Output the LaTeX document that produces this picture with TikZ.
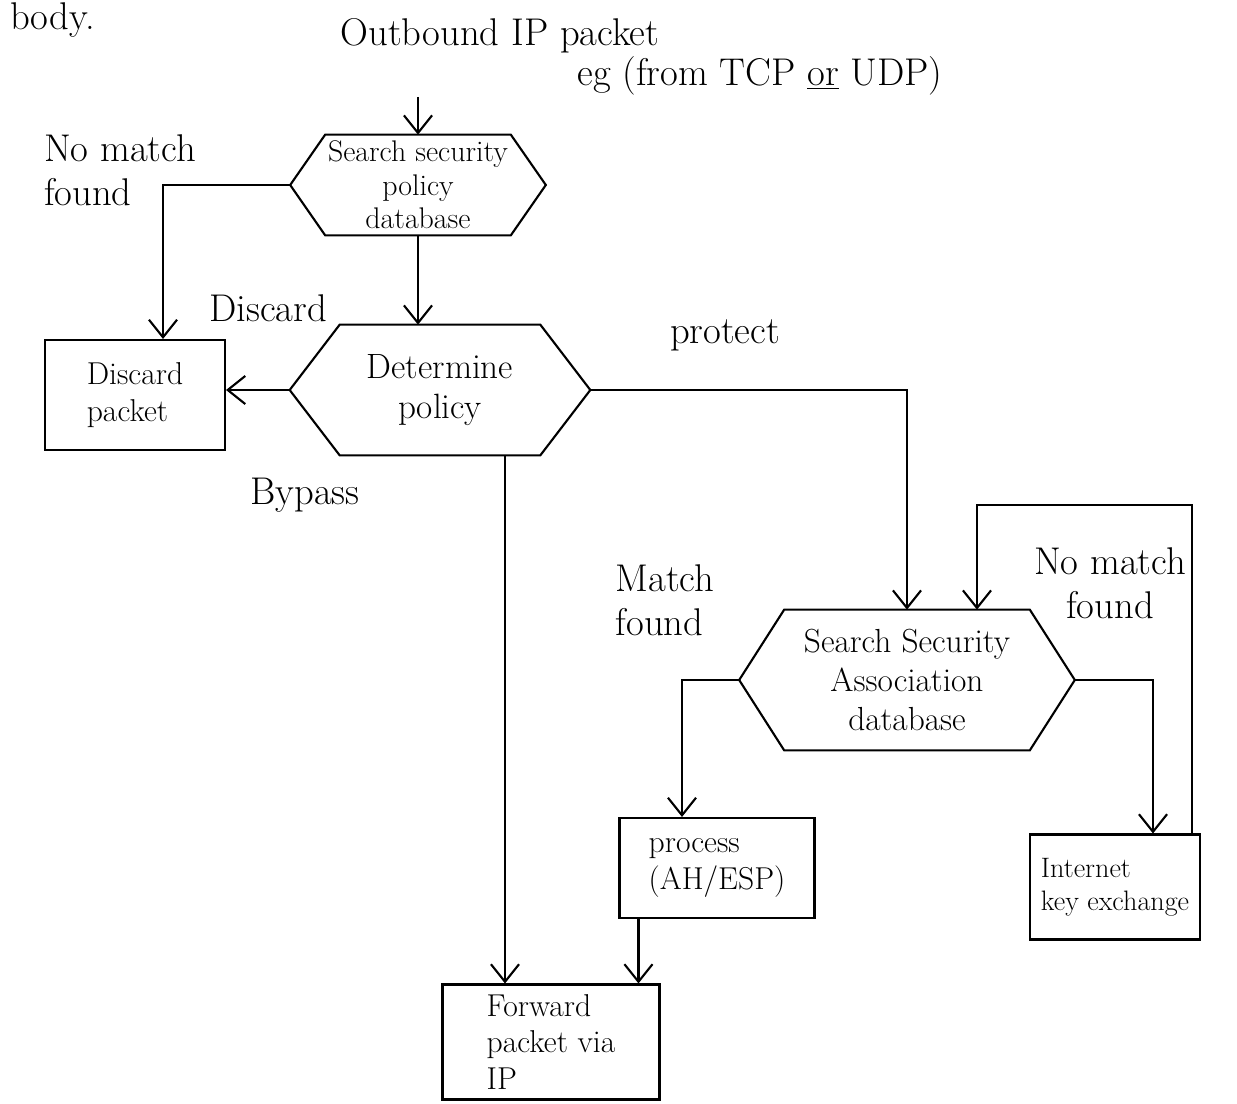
\documentclass[tikz,border=0pt]{standalone}
\usetikzlibrary{arrows.meta,calc}
\newcommand\hexoutline[2]{%
  \draw[line] (#1.west) -- ($(#1.north west)+(#2,0)$) -- ($(#1.north east)+(-#2,0)$)
    -- (#1.east) -- ($(#1.south east)+(-#2,0)$) -- ($(#1.south west)+(#2,0)$) -- cycle;}
\begin{document}
\begin{tikzpicture}[x=0.02cm,y=-0.02cm,
  line/.style={line width=1.2pt},
  arr/.style={line, -{Straight Barb[length=10pt,width=16pt,line width=1.2pt]}},
  box/.style={draw,line width=1.2pt,rectangle,align=left,inner sep=4pt,font=\fontsize{18}{21}\selectfont},
  hexnode/.style={rectangle,align=center,inner sep=0pt,font=\fontsize{17}{19}\selectfont},
  lab/.style={align=left,font=\fontsize{22}{25}\selectfont}]
\useasboundingbox (0,0) rectangle (1237,1104);
\fill[white] (0,0) rectangle (1237,1104);

% title
\node[lab] (t1) at (500,36) {Outbound IP packet};
\node[lab] (t2) at (760,76) {eg (from TCP \underline{or} UDP)};
\node[lab,anchor=west] (body) at (4,20) {body.};

% nodes
\node[hexnode,minimum width=5.1cm,minimum height=2cm] (h1) at (418,185) {Search security\\policy\\database};
\node[hexnode,minimum width=6.0cm,minimum height=2.6cm,font=\fontsize{20}{23}\selectfont] (h2) at (440,390) {Determine\\policy};
\node[hexnode,minimum width=6.7cm,minimum height=2.8cm,font=\fontsize{19}{22}\selectfont] (h3) at (907,680) {Search Security\\Association\\database};
\hexoutline{h1}{35}
\hexoutline{h2}{50}
\hexoutline{h3}{45}

\node[box,minimum width=3.6cm,minimum height=2.2cm] (d) at (135,395) {Discard\\packet};
\node[box,minimum width=3.9cm,minimum height=2.0cm] (p) at (717,868) {process\\(AH/ESP)};
\node[box,minimum width=3.4cm,minimum height=2.1cm,font=\fontsize{16}{19}\selectfont] (k) at (1115,887) {Internet\\key exchange};
\node[box,minimum width=4.34cm,minimum height=2.3cm] (f) at (551,1042) {Forward\\packet via\\IP};

% labels
\node[lab] (nm1) at (120,170) {No match\\found};
\node[lab] (ldis) at (268,308) {Discard};
\node[lab] (lpro) at (725,335) {protect};
\node[lab] (lby) at (305,495) {Bypass};
\node[lab] (lmf) at (665,600) {Match\\found};
\node[lab,align=center] (nm2) at (1110,583) {No match\\found};

% connectors
\coordinate (tin) at (418,97);
\draw[arr] (tin) -- (h1.north);
\draw[arr] (h1.west) -| ($(d.north)+(28,0)$);
\draw[arr] (h1.south) -- (h1.south |- h2.north);
\draw[arr] (h2.west) -- (h2.west -| d.east);
\draw[arr] (h2.east) -| (h3.north);
\coordinate (bp) at ($(h2.south)+(65,0)$);
\draw[arr] (bp) -- (bp |- f.north);
\draw[arr] (h3.west) -| ($(p.north)+(-35,0)$);
\draw[arr] (h3.east) -| ($(k.north)+(38,0)$);
\coordinate (lp) at (1192,505);
\draw[arr] (k.north -| lp) -- (lp) -| ($(h3.north)+(70,0)$);
\coordinate (pf) at ($(p.south west)+(20,0)$);
\draw[arr] (pf) -- (pf |- f.north);
\end{tikzpicture}
\end{document}
